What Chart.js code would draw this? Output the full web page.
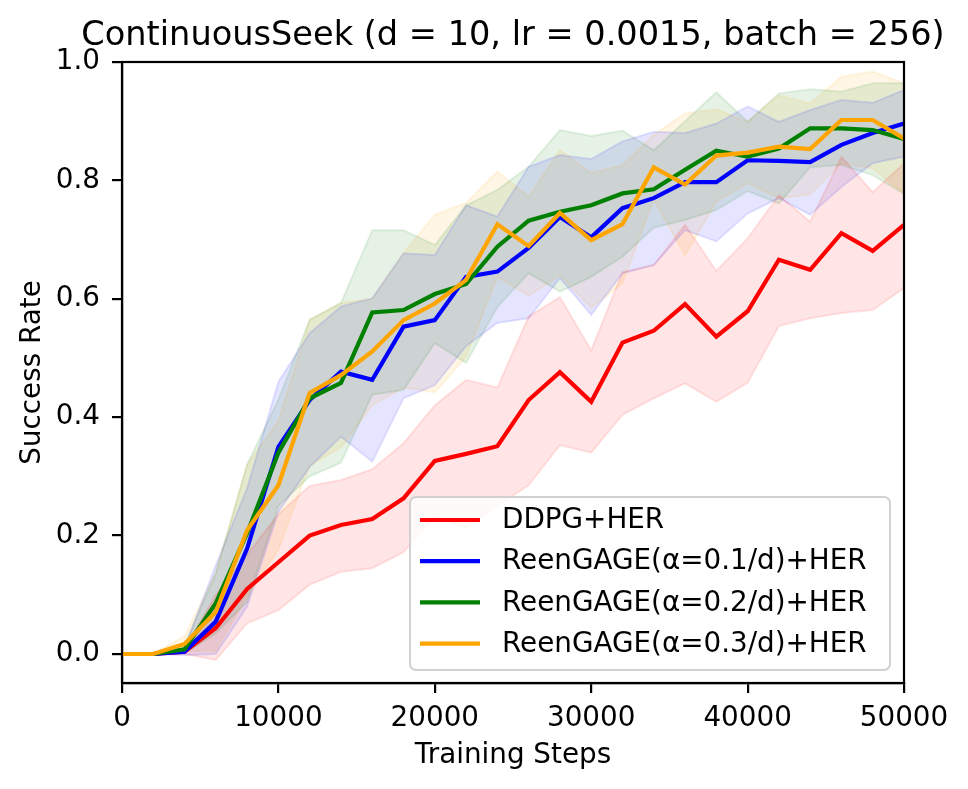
<!DOCTYPE html>
<html>
<head>
<meta charset="utf-8">
<script src="https://cdn.jsdelivr.net/npm/chart.js@4.4.1/dist/chart.umd.min.js"></script>
<style>
    html, body { margin: 0; padding: 0; background: #fff; }
    #wrap { width: 968px; height: 789px; position: relative; }
</style>
</head>
<body>
<div id="wrap"><canvas id="seek-chart"></canvas></div>
<script>
// Data (setiap 2000 langkah)
const steps = [0, 2000, 4000, 6000, 8000, 10000, 12000, 14000, 16000, 18000, 20000, 22000, 24000,
    26000, 28000, 30000, 32000, 34000, 36000, 38000, 40000, 42000, 44000, 46000, 48000, 50000];

const chartTitle = 'ContinuousSeek (d = 10, lr = 0.0015, batch = 256)';
const seriesNames = ['DDPG+HER', 'ReenGAGE(α=0.1/d)+HER', 'ReenGAGE(α=0.2/d)+HER', 'ReenGAGE(α=0.3/d)+HER'];
const seriesColors = ['#ff0000', '#0000ff', '#008000', '#ffa500'];
const bandColors = ['rgba(255,0,0,0.1)', 'rgba(0,0,255,0.1)', 'rgba(0,128,0,0.1)', 'rgba(255,165,0,0.1)'];

// DDPG+HER
const ddpgMean = [0, 0, 0.004, 0.044, 0.11, 0.155, 0.2, 0.218, 0.228, 0.263, 0.326, 0.338, 0.351,
    0.429, 0.476, 0.426, 0.526, 0.546, 0.591, 0.536, 0.579, 0.666, 0.649, 0.711, 0.681, 0.725];
const ddpgUpper = [0, 0, 0.008, 0.10, 0.168, 0.236, 0.284, 0.294, 0.312, 0.356, 0.42, 0.463, 0.45,
    0.57, 0.603, 0.513, 0.645, 0.657, 0.725, 0.647, 0.702, 0.775, 0.73, 0.84, 0.78, 0.829];
const ddpgLower = [0, 0, 0, -0.01, 0.052, 0.074, 0.117, 0.139, 0.145, 0.172, 0.232, 0.213, 0.25,
    0.285, 0.353, 0.34, 0.404, 0.432, 0.457, 0.426, 0.458, 0.554, 0.567, 0.576, 0.581, 0.618];

// ReenGAGE alpha = 0.1/d
const reen1Mean = [0, 0, 0.004, 0.055, 0.178, 0.35, 0.429, 0.477, 0.463, 0.553, 0.564, 0.637, 0.646,
    0.686, 0.738, 0.704, 0.753, 0.770, 0.797, 0.797, 0.834, 0.833, 0.831, 0.860, 0.880, 0.896];
const reen1Upper = [0, 0, 0.01, 0.15, 0.28, 0.46, 0.542, 0.587, 0.601, 0.677, 0.674, 0.758, 0.739,
    0.823, 0.843, 0.836, 0.866, 0.882, 0.88, 0.896, 0.925, 0.899, 0.919, 0.936, 0.931, 0.953];
const reen1Lower = [0, 0, -0.002, 0.0, 0.08, 0.24, 0.316, 0.367, 0.325, 0.432, 0.454, 0.52, 0.559,
    0.567, 0.635, 0.573, 0.643, 0.657, 0.716, 0.697, 0.744, 0.770, 0.742, 0.789, 0.829, 0.840];

// ReenGAGE alpha = 0.2/d
const reen2Mean = [0, 0, 0.008, 0.086, 0.204, 0.34, 0.432, 0.458, 0.577, 0.581, 0.608, 0.625, 0.688,
    0.732, 0.747, 0.758, 0.778, 0.785, 0.818, 0.850, 0.840, 0.854, 0.888, 0.888, 0.885, 0.870];
const reen2Upper = [0, 0, 0.015, 0.137, 0.32, 0.43, 0.565, 0.593, 0.716, 0.716, 0.691, 0.758, 0.784,
    0.823, 0.885, 0.875, 0.884, 0.851, 0.90, 0.949, 0.899, 0.947, 0.954, 0.950, 0.964, 0.964];
const reen2Lower = [0, 0, 0.001, 0.035, 0.088, 0.25, 0.30, 0.323, 0.438, 0.446, 0.525, 0.492, 0.586,
    0.643, 0.612, 0.637, 0.671, 0.72, 0.733, 0.75, 0.782, 0.761, 0.822, 0.826, 0.809, 0.777];

// ReenGAGE alpha = 0.3/d
const reen3Mean = [0, 0, 0.017, 0.071, 0.209, 0.285, 0.441, 0.471, 0.511, 0.564, 0.592, 0.632, 0.726,
    0.689, 0.745, 0.699, 0.726, 0.822, 0.793, 0.842, 0.847, 0.857, 0.853, 0.902, 0.902, 0.871];
const reen3Upper = [0, 0, 0.03, 0.137, 0.32, 0.394, 0.564, 0.593, 0.60, 0.677, 0.742, 0.762, 0.815,
    0.773, 0.851, 0.813, 0.826, 0.877, 0.913, 0.920, 0.899, 0.944, 0.930, 0.975, 0.984, 0.964];
const reen3Lower = [0, 0, 0.004, 0.005, 0.098, 0.176, 0.318, 0.349, 0.42, 0.45, 0.442, 0.502, 0.637,
    0.605, 0.639, 0.585, 0.626, 0.767, 0.673, 0.764, 0.795, 0.77, 0.776, 0.829, 0.82, 0.778];

const xTicks = [0, 10000, 20000, 30000, 40000, 50000];
const xTickLabels = ['0', '10000', '20000', '30000', '40000', '50000'];
const yTicks = [0.0, 0.2, 0.4, 0.6, 0.8, 1.0];
const yTickLabels = ['0.0', '0.2', '0.4', '0.6', '0.8', '1.0'];

const FONT = 'DejaVu Sans';

function toPoints(values) {
    return steps.map((s, i) => ({ x: s, y: values[i] }));
}

// Susun dataset: pita (lower + upper) dulu, lalu garis rata-rata
function buildDatasets() {
    const means = [ddpgMean, reen1Mean, reen2Mean, reen3Mean];
    const uppers = [ddpgUpper, reen1Upper, reen2Upper, reen3Upper];
    const lowers = [ddpgLower, reen1Lower, reen2Lower, reen3Lower];
    const sets = [];

    for (let k = 0; k < 4; k++) {
        sets.push({
            label: 'lower' + k,
            data: toPoints(lowers[k]),
            borderColor: bandColors[k],
            borderWidth: 2,
            pointRadius: 0,
            fill: false,
            order: 10
        });
        sets.push({
            label: 'upper' + k,
            data: toPoints(uppers[k]),
            borderColor: bandColors[k],
            backgroundColor: bandColors[k],
            borderWidth: 2,
            pointRadius: 0,
            fill: '-1',
            order: 10
        });
    }

    for (let k = 0; k < 4; k++) {
        sets.push({
            label: seriesNames[k],
            data: toPoints(means[k]),
            borderColor: seriesColors[k],
            borderWidth: 4.2,
            pointRadius: 0,
            fill: false,
            order: 4 - k
        });
    }
    return sets;
}

// Plugin: judul di tengah sumbu, bingkai sumbu, dan legenda gaya matplotlib
const frameAndLegend = {
    id: 'frameAndLegend',
    afterDraw(chart) {
        const { ctx, chartArea } = chart;
        ctx.save();

        // judul
        ctx.font = '33.6px "' + FONT + '"';
        ctx.fillStyle = '#000';
        ctx.textAlign = 'center';
        ctx.textBaseline = 'middle';
        ctx.fillText(chartTitle, (chartArea.left + chartArea.right) / 2, 36);

        ctx.strokeStyle = '#000';
        ctx.lineWidth = 2.2;
        ctx.strokeRect(chartArea.left, chartArea.top, chartArea.right - chartArea.left, chartArea.bottom - chartArea.top);

        // kotak legenda
        const bx = chartArea.right - 494;
        const by = chartArea.bottom - 186;
        const bw = 480;
        const bh = 173;
        ctx.beginPath();
        ctx.roundRect(bx, by, bw, bh, 6);
        ctx.fillStyle = 'rgba(255,255,255,0.8)';
        ctx.fill();
        ctx.strokeStyle = 'rgba(204,204,204,0.9)';
        ctx.lineWidth = 2;
        ctx.stroke();

        ctx.font = '27.8px "' + FONT + '"';
        ctx.textBaseline = 'middle';
        ctx.textAlign = 'left';
        for (let k = 0; k < 4; k++) {
            const y = by + 23 + k * 41.2;
            ctx.beginPath();
            ctx.moveTo(bx + 10, y);
            ctx.lineTo(bx + 70, y);
            ctx.strokeStyle = seriesColors[k];
            ctx.lineWidth = 4.2;
            ctx.stroke();
            ctx.fillStyle = '#000';
            ctx.fillText(seriesNames[k], bx + 92, y + 1);
        }
        ctx.restore();
    }
};

function initializeChart() {
    Chart.defaults.font.family = FONT;
    Chart.defaults.color = '#000';

    new Chart(document.getElementById('seek-chart'), {
        type: 'line',
        data: { datasets: buildDatasets() },
        options: {
            responsive: true,
            maintainAspectRatio: false,
            animation: false,
            layout: { padding: { left: 0, right: 64, top: 62, bottom: 0 } },
            plugins: {
                legend: { display: false },
                tooltip: { enabled: false },
                filler: { drawTime: 'beforeDatasetsDraw' },
                title: { display: false }
            },
            scales: {
                x: {
                    type: 'linear',
                    min: 0,
                    max: 50000,
                    afterBuildTicks: (scale) => { scale.ticks = xTicks.map(v => ({ value: v })); },
                    afterFit: (scale) => { scale.height = 106; },
                    grid: { drawOnChartArea: false, drawTicks: true, tickLength: 10, color: '#000', lineWidth: 2.2 },
                    border: { display: true, color: '#000', width: 2.2 },
                    ticks: {
                        autoSkip: false,
                        maxRotation: 0,
                        padding: 9,
                        font: { family: FONT, size: 27.8 },
                        callback: (v, i) => xTickLabels[i]
                    },
                    title: {
                        display: true,
                        text: 'Training Steps',
                        font: { family: FONT, size: 27.8 },
                        padding: { top: 0, bottom: 17 }
                    }
                },
                y: {
                    min: -0.049,
                    max: 1.0,
                    afterBuildTicks: (scale) => { scale.ticks = yTicks.map(v => ({ value: v })); },
                    afterFit: (scale) => { scale.width = 122; },
                    grid: { drawOnChartArea: false, drawTicks: true, tickLength: 10, color: '#000', lineWidth: 2.2 },
                    border: { display: true, color: '#000', width: 2.2 },
                    ticks: {
                        autoSkip: false,
                        padding: 12,
                        font: { family: FONT, size: 27.8 },
                        callback: (v, i) => yTickLabels[i]
                    },
                    title: {
                        display: true,
                        text: 'Success Rate',
                        font: { family: FONT, size: 27.8 },
                        padding: { top: 16, bottom: 0 }
                    }
                }
            }
        },
        plugins: [frameAndLegend]
    });
}

window.addEventListener('load', () => {
    initializeChart();
});
</script>
</body>
</html>
